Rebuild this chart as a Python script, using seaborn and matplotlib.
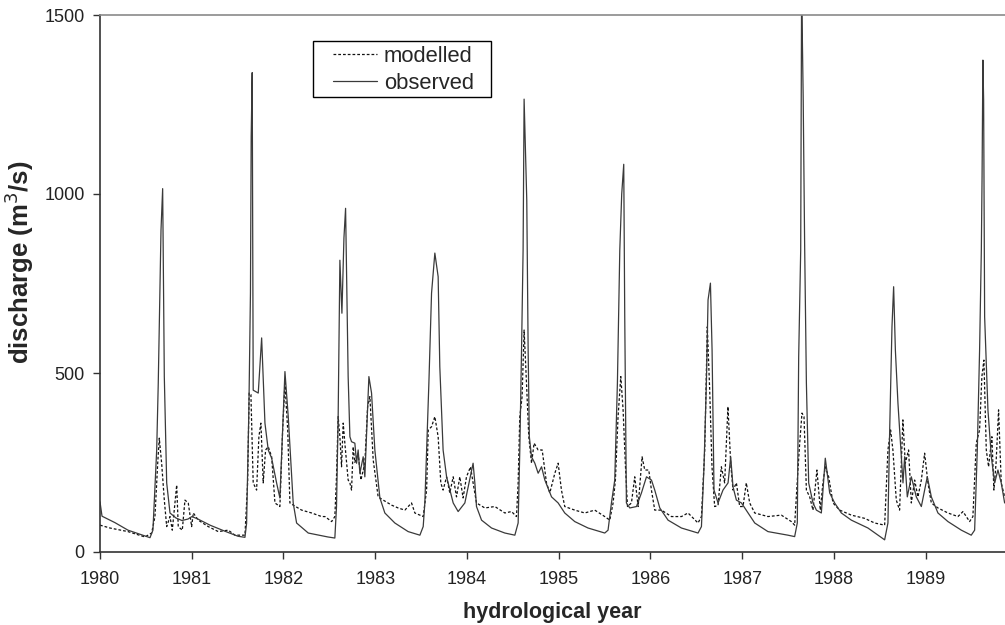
import pandas as pd
import matplotlib
matplotlib.use("Agg")
import matplotlib.pyplot as plt
from matplotlib.patches import Rectangle
import seaborn as sns

# observed discharge (m3/s)
obs_year = [
    1980.000, 1980.022, 1980.163, 1980.305, 1980.523, 1980.545, 1980.577, 1980.618,
    1980.635, 1980.665, 1980.683, 1980.701, 1980.727, 1980.763, 1980.828, 1980.893,
    1980.959, 1981.002, 1981.068, 1981.199, 1981.362, 1981.504, 1981.580, 1981.598,
    1981.623, 1981.640, 1981.648, 1981.659, 1981.670, 1981.725, 1981.762, 1981.798,
    1981.834, 1981.871, 1981.925, 1981.961, 1982.016, 1982.052, 1982.106, 1982.143,
    1982.270, 1982.484, 1982.560, 1982.578, 1982.596, 1982.615, 1982.637, 1982.659,
    1982.677, 1982.705, 1982.724, 1982.742, 1982.778, 1982.797, 1982.814, 1982.833,
    1982.869, 1982.887, 1982.931, 1982.960, 1982.996, 1983.051, 1983.105, 1983.214,
    1983.359, 1983.487, 1983.523, 1983.541, 1983.560, 1983.585, 1983.614, 1983.650,
    1983.686, 1983.704, 1983.740, 1983.778, 1983.850, 1983.904, 1983.977, 1984.067,
    1984.086, 1984.104, 1984.159, 1984.268, 1984.413, 1984.522, 1984.558, 1984.576,
    1984.595, 1984.612, 1984.623, 1984.652, 1984.667, 1984.680, 1984.704, 1984.740,
    1984.776, 1984.813, 1984.849, 1984.922, 1984.994, 1985.066, 1985.175, 1985.320,
    1985.502, 1985.538, 1985.575, 1985.611, 1985.640, 1985.666, 1985.687, 1985.709,
    1985.720, 1985.738, 1985.775, 1985.848, 1985.902, 1985.957, 1986.011, 1986.047,
    1986.102, 1986.192, 1986.338, 1986.519, 1986.556, 1986.584, 1986.610, 1986.628,
    1986.654, 1986.672, 1986.693, 1986.737, 1986.791, 1986.846, 1986.875, 1986.900,
    1986.937, 1986.992, 1987.064, 1987.137, 1987.281, 1987.499, 1987.572, 1987.601,
    1987.616, 1987.638, 1987.648, 1987.665, 1987.681, 1987.700, 1987.725, 1987.772,
    1987.809, 1987.863, 1987.906, 1987.954, 1988.008, 1988.081, 1988.190, 1988.371,
    1988.553, 1988.589, 1988.608, 1988.633, 1988.651, 1988.670, 1988.698, 1988.735,
    1988.753, 1988.771, 1988.800, 1988.844, 1988.898, 1988.953, 1989.018, 1989.062,
    1989.134, 1989.243, 1989.389, 1989.497, 1989.534, 1989.563, 1989.588, 1989.607,
    1989.615, 1989.624, 1989.632, 1989.643, 1989.679, 1989.716, 1989.752, 1989.788,
    1989.824, 1989.861,
]
obs_flow = [
    140, 100, 82, 61, 42, 40, 61, 285,
    471, 900, 1015, 490, 193, 109, 95, 88,
    92, 99, 92, 75, 58, 44, 41, 80,
    400, 723, 1160, 1339, 452, 444, 598, 360,
    285, 262, 193, 151, 504, 378, 137, 81,
    53, 42, 39, 126, 377, 815, 667, 877,
    960, 490, 322, 308, 304, 248, 285, 220,
    266, 210, 490, 444, 285, 151, 109, 81,
    57, 47, 71, 137, 285, 472, 723, 835,
    769, 518, 285, 210, 137, 113, 137, 248,
    193, 127, 89, 67, 53, 47, 81, 285,
    564, 843, 1265, 983, 564, 322, 266, 248,
    220, 238, 201, 154, 137, 109, 85, 67,
    53, 61, 137, 201, 472, 843, 1000, 1083,
    657, 137, 123, 127, 165, 210, 201, 173,
    123, 89, 67, 53, 71, 238, 472, 704,
    751, 564, 173, 137, 173, 193, 266, 182,
    145, 137, 109, 81, 57, 47, 43, 81,
    545, 843, 1580, 1272, 857, 472, 193, 137,
    117, 109, 262, 165, 137, 109, 89, 67,
    34, 81, 341, 629, 741, 564, 416, 266,
    193, 266, 154, 210, 154, 127, 210, 154,
    109, 85, 61, 47, 61, 285, 564, 843,
    1048, 1374, 1262, 657, 397, 266, 193, 229,
    193, 137,
]

# modelled discharge (m3/s)
mod_year = [
    1980.000, 1980.109, 1980.305, 1980.490, 1980.563, 1980.599, 1980.629, 1980.646,
    1980.672, 1980.701, 1980.727, 1980.763, 1980.788, 1980.836, 1980.853, 1980.897,
    1980.926, 1980.962, 1980.999, 1981.017, 1981.071, 1981.180, 1981.289, 1981.398,
    1981.471, 1981.580, 1981.609, 1981.626, 1981.645, 1981.670, 1981.707, 1981.732,
    1981.754, 1981.779, 1981.805, 1981.834, 1981.871, 1981.907, 1981.961, 1981.991,
    1982.016, 1982.046, 1982.070, 1982.106, 1982.198, 1982.307, 1982.416, 1982.452,
    1982.525, 1982.560, 1982.578, 1982.596, 1982.615, 1982.633, 1982.651, 1982.669,
    1982.705, 1982.724, 1982.742, 1982.760, 1982.778, 1982.814, 1982.844, 1982.887,
    1982.917, 1982.942, 1982.978, 1983.032, 1983.087, 1983.178, 1983.250, 1983.323,
    1983.396, 1983.432, 1983.523, 1983.560, 1983.578, 1983.614, 1983.650, 1983.686,
    1983.715, 1983.740, 1983.778, 1983.813, 1983.850, 1983.886, 1983.922, 1983.958,
    1983.995, 1984.039, 1984.067, 1984.104, 1984.195, 1984.304, 1984.413, 1984.486,
    1984.540, 1984.558, 1984.576, 1984.601, 1984.623, 1984.649, 1984.674, 1984.704,
    1984.732, 1984.776, 1984.820, 1984.867, 1984.903, 1984.958, 1984.994, 1985.030,
    1985.066, 1985.175, 1985.284, 1985.393, 1985.502, 1985.557, 1985.593, 1985.618,
    1985.647, 1985.677, 1985.702, 1985.728, 1985.750, 1985.793, 1985.829, 1985.866,
    1985.909, 1985.938, 1985.982, 1986.011, 1986.047, 1986.120, 1986.229, 1986.338,
    1986.410, 1986.519, 1986.556, 1986.592, 1986.620, 1986.646, 1986.671, 1986.700,
    1986.737, 1986.773, 1986.809, 1986.845, 1986.875, 1986.900, 1986.937, 1986.973,
    1987.009, 1987.045, 1987.082, 1987.137, 1987.281, 1987.427, 1987.536, 1987.572,
    1987.608, 1987.627, 1987.652, 1987.674, 1987.700, 1987.736, 1987.772, 1987.815,
    1987.852, 1987.880, 1987.906, 1987.943, 1987.990, 1988.063, 1988.190, 1988.335,
    1988.444, 1988.553, 1988.589, 1988.618, 1988.643, 1988.680, 1988.716, 1988.752,
    1988.778, 1988.814, 1988.844, 1988.880, 1988.916, 1988.953, 1988.989, 1989.025,
    1989.062, 1989.134, 1989.243, 1989.352, 1989.407, 1989.479, 1989.515, 1989.552,
    1989.588, 1989.613, 1989.635, 1989.661, 1989.686, 1989.722, 1989.744, 1989.768,
    1989.795, 1989.824, 1989.861,
]
mod_flow = [
    75, 67, 57, 42, 53, 99, 248, 318,
    248, 145, 71, 99, 61, 187, 71, 61,
    145, 137, 71, 109, 89, 71, 57, 61,
    47, 47, 193, 444, 440, 193, 173, 322,
    360, 193, 285, 294, 266, 137, 127, 341,
    472, 341, 137, 131, 117, 109, 99, 99,
    85, 99, 210, 378, 322, 238, 360, 304,
    201, 193, 173, 294, 250, 276, 201, 248,
    406, 434, 257, 154, 145, 131, 123, 117,
    137, 109, 99, 173, 341, 350, 378, 322,
    193, 173, 210, 165, 210, 154, 210, 151,
    210, 238, 193, 137, 123, 127, 109, 113,
    99, 193, 378, 434, 620, 472, 322, 248,
    304, 285, 285, 193, 165, 220, 248, 173,
    127, 117, 109, 117, 99, 89, 137, 201,
    378, 490, 397, 238, 127, 137, 210, 127,
    266, 229, 229, 173, 117, 117, 99, 99,
    109, 81, 99, 285, 629, 452, 238, 127,
    130, 238, 193, 406, 248, 173, 193, 127,
    127, 193, 137, 109, 99, 103, 85, 75,
    229, 304, 388, 378, 173, 154, 117, 229,
    117, 193, 238, 210, 137, 117, 103, 94,
    81, 75, 285, 341, 285, 145, 117, 369,
    248, 285, 137, 201, 154, 201, 276, 193,
    137, 123, 109, 99, 113, 85, 99, 304,
    341, 490, 536, 285, 238, 322, 173, 250,
    397, 193, 154,
]

df_obs = pd.DataFrame({"year": obs_year, "discharge": obs_flow})
df_mod = pd.DataFrame({"year": mod_year, "discharge": mod_flow})

sns.set_style("ticks")
plt.rcParams["font.family"] = ["Liberation Sans", "DejaVu Sans"]

fig = plt.figure(figsize=(10.05, 6.25), dpi=100)
ax = fig.add_axes([100 / 1005, 1 - 552 / 625, 905 / 1005, 537 / 625])

sns.lineplot(data=df_mod, x="year", y="discharge", ax=ax, color="#111111",
             linewidth=0.9, linestyle=(0, (2.2, 1.6)), estimator=None, sort=False,
             label="modelled")
sns.lineplot(data=df_obs, x="year", y="discharge", ax=ax, color="#3a3a3a",
             linewidth=0.9, estimator=None, sort=False, label="observed")

ax.set_xlim(1980, 1989.865)
ax.set_ylim(0, 1500)
ax.set_xticks(range(1980, 1990))
ax.set_yticks([0, 500, 1000, 1500])

ax.spines["right"].set_visible(False)
ax.spines["top"].set_color("#8a8a8a")
ax.spines["top"].set_linewidth(1.2)
for s in ("left", "bottom"):
    ax.spines[s].set_color("#333333")
    ax.spines[s].set_linewidth(1.2)

ax.tick_params(axis="x", direction="out", length=5, width=1, colors="#333333",
               labelsize=13, labelcolor="#222222", pad=9)
ax.tick_params(axis="y", direction="out", length=5, width=1, colors="#333333",
               labelsize=13, labelcolor="#222222", pad=6)

ax.set_xlabel("hydrological year", fontsize=15.5, fontweight="bold", labelpad=10)
ax.set_ylabel("discharge (m$^3$/s)", fontsize=18.5, fontweight="bold")
ax.yaxis.set_label_coords(-0.071, 0.54)

# legend: entries without frame, box drawn separately to match the wide Excel frame
leg = ax.legend(loc="upper left", bbox_to_anchor=(0.2575, 0.943), borderaxespad=0,
                borderpad=0, fontsize=15.8, frameon=False, handlelength=2.0,
                handletextpad=0.32, labelspacing=0.28)
ax.add_patch(Rectangle((0.2354, 0.8473), 0.1967, 0.1043, transform=ax.transAxes,
                       fill=False, edgecolor="black", linewidth=1.0, zorder=5,
                       clip_on=False))

fig.savefig("out.png", dpi=100)
